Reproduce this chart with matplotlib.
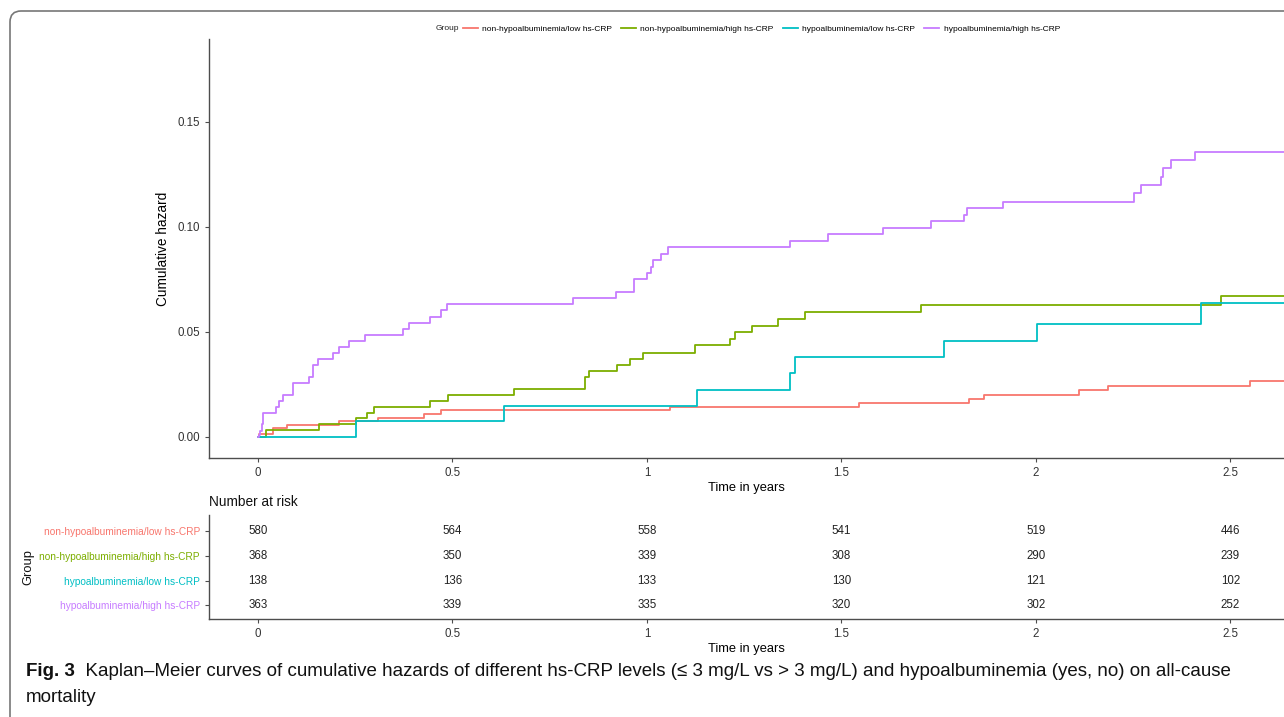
import numpy as np
import matplotlib
matplotlib.use("Agg")
import matplotlib.pyplot as plt
from matplotlib.patches import FancyBboxPatch
from matplotlib.transforms import IdentityTransform

plt.rcParams['font.family'] = ['Liberation Sans', 'DejaVu Sans']

groups = ['non-hypoalbuminemia/low hs-CRP', 'non-hypoalbuminemia/high hs-CRP',
          'hypoalbuminemia/low hs-CRP', 'hypoalbuminemia/high hs-CRP']
colors = ['#F8766D', '#7CAE00', '#00BFC4', '#C77CFF']

# cumulative hazard step curves (time in years, hazard)
red_t = [0, 0.002, 0.039, 0.075, 0.208, 0.309, 0.426, 0.470, 1.059, 1.545, 1.828, 1.866, 2.112, 2.185, 2.551]
red_h = [0, 0.0014, 0.0041, 0.0057, 0.0076, 0.0090, 0.0109, 0.0129, 0.0144, 0.0163, 0.0182, 0.0201, 0.0224, 0.0244, 0.0268]

green_t = [0, 0.020, 0.157, 0.252, 0.279, 0.297, 0.443, 0.489, 0.659, 0.842, 0.852, 0.922, 0.956, 0.991,
           1.124, 1.213, 1.227, 1.271, 1.337, 1.406, 1.704, 2.475]
green_h = [0, 0.0031, 0.0060, 0.0089, 0.0116, 0.0144, 0.0173, 0.0201, 0.0229, 0.0284, 0.0312, 0.0343, 0.0371, 0.0400,
           0.0436, 0.0465, 0.0498, 0.0530, 0.0563, 0.0597, 0.0628, 0.0670]

cyan_t = [0, 0.252, 0.632, 1.129, 1.367, 1.380, 1.764, 2.002, 2.424]
cyan_h = [0, 0.0078, 0.0149, 0.0225, 0.0303, 0.0379, 0.0457, 0.0540, 0.0638]

purple_t = [0, 0.002, 0.006, 0.010, 0.013, 0.046, 0.053, 0.065, 0.091, 0.132, 0.142, 0.153, 0.194, 0.207,
            0.233, 0.274, 0.372, 0.389, 0.442, 0.471, 0.487, 0.809, 0.921, 0.966, 1.001, 1.011, 1.015, 1.037,
            1.053, 1.369, 1.465, 1.606, 1.730, 1.815, 1.822, 1.915, 2.252, 2.270, 2.323, 2.328, 2.348, 2.410]
purple_h = [0, 0.0010, 0.0030, 0.0060, 0.0116, 0.0144, 0.0173, 0.0201, 0.0256, 0.0284, 0.0341, 0.0370, 0.0398, 0.0428,
            0.0455, 0.0484, 0.0515, 0.0544, 0.0573, 0.0603, 0.0631, 0.0660, 0.0692, 0.0752, 0.0779, 0.0811, 0.0842, 0.0871,
            0.0903, 0.0935, 0.0965, 0.0996, 0.1027, 0.1058, 0.1090, 0.1120, 0.1162, 0.1201, 0.1240, 0.1280, 0.1320, 0.1359]

risk_times = [0, 0.5, 1, 1.5, 2, 2.5]
risk_red = [580, 564, 558, 541, 519, 446]
risk_green = [368, 350, 339, 308, 290, 239]
risk_cyan = [138, 136, 133, 130, 121, 102]
risk_purple = [363, 339, 335, 320, 302, 252]

curves = [(red_t, red_h), (green_t, green_h), (cyan_t, cyan_h), (purple_t, purple_h)]
risks = [risk_red, risk_green, risk_cyan, risk_purple]

W, H = 1284, 717
fig = plt.figure(figsize=(W / 100, H / 100), dpi=100)

xlim = (-0.126, 2.638)
t_end = 2.7
axc = '#4d4d4d'

def px(x0, y0, x1, y1):
    return [x0 / W, 1 - y1 / H, (x1 - x0) / W, (y1 - y0) / H]

def style(ax):
    for s in ['top', 'right']:
        ax.spines[s].set_visible(False)
    for s in ['left', 'bottom']:
        ax.spines[s].set_color(axc)
        ax.spines[s].set_linewidth(1.0)
    ax.tick_params(colors=axc, labelcolor='#333333', labelsize=8.3, length=3, width=0.8)

# main plot
ax = fig.add_axes(px(209, 39, W, 458))
for (t, h), c, g in zip(curves, colors, groups):
    ax.step(np.append(t, t_end), np.append(h, h[-1]), where='post', color=c, lw=1.3, label=g)
ax.set_xlim(*xlim)
ax.set_ylim(-0.01, 0.1895)
ax.set_xticks(risk_times)
ax.set_xticklabels(['0', '0.5', '1', '1.5', '2', '2.5'])
ax.set_yticks([0, 0.05, 0.10, 0.15])
ax.set_yticklabels(['0.00', '0.05', '0.10', '0.15'])
style(ax)
ax.set_xlabel('Time in years', fontsize=9.3, labelpad=2)
ax.set_ylabel('Cumulative hazard', fontsize=9.8, labelpad=5)

# legend
fig.text(436 / W, 1 - 28.5 / H, 'Group', fontsize=6.0, va='center', ha='left', color='#222222')
fig.legend(*ax.get_legend_handles_labels(), loc='center left', bbox_to_anchor=(463 / W, 1 - 29 / H),
           ncol=4, frameon=False, fontsize=6.0, handlelength=1.8, handletextpad=0.5, columnspacing=1.1,
           borderpad=0, borderaxespad=0)

# risk table
axt = fig.add_axes(px(209, 515, W, 619))
nrow = len(groups)
for i, (r, c) in enumerate(zip(risks, colors)):
    yv = nrow - i
    for tx, n in zip(risk_times, r):
        axt.text(tx, yv, str(n), ha='center', va='center', fontsize=8.3, color='#222222')
axt.set_xlim(*xlim)
axt.set_ylim(0.456, 4.644)
axt.set_xticks(risk_times)
axt.set_xticklabels(['0', '0.5', '1', '1.5', '2', '2.5'])
axt.set_yticks([4, 3, 2, 1])
axt.set_yticklabels(groups)
style(axt)
axt.tick_params(axis='y', labelsize=7.3)
for lab, c in zip(axt.get_yticklabels(), colors):
    lab.set_color(c)
axt.set_xlabel('Time in years', fontsize=9.3, labelpad=2)
fig.text(209 / W, 1 - 502 / H, 'Number at risk', fontsize=9.8, va='center', ha='left', color='#111111')
fig.text(28 / W, 1 - 567 / H, 'Group', fontsize=9.3, rotation=90, va='center', ha='center', color='#111111')

# frame around figure
frame = FancyBboxPatch((10, -200), 2000, H - 11 + 200, boxstyle='round,pad=0,rounding_size=11',
                       transform=IdentityTransform(), fill=False, edgecolor='#777777', lw=1.2)
fig.patches.append(frame)

# caption
cap_font = ['Liberation Sans', 'DejaVu Sans']
cap_size = 13.5
t1 = fig.text(26 / W, 1 - 672 / H, 'Fig. 3', fontsize=cap_size, fontweight='bold', family=cap_font,
              va='center', ha='left', color='#111111')
ax.annotate('  Kaplan–Meier curves of cumulative hazards of different hs-CRP levels (≤ 3 mg/L vs > 3 mg/L) '
            'and hypoalbuminemia (yes, no) on all-cause', xy=(1, 0.5), xycoords=t1, va='center', ha='left',
            fontsize=cap_size, family=cap_font, color='#111111', annotation_clip=False)
fig.text(26 / W, 1 - 697 / H, 'mortality', fontsize=cap_size, family=cap_font, va='center', ha='left',
         color='#111111')

fig.savefig('out.png', dpi=100)
